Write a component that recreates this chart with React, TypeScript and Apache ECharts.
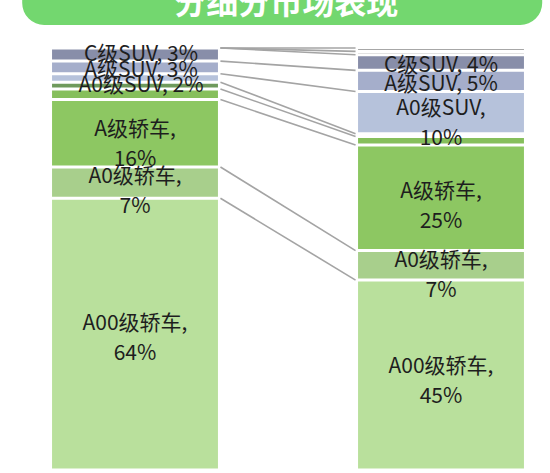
import React, { useEffect, useRef } from 'react';
import * as echarts from 'echarts';

// ---- data ----
const headerTitle = '分细分市场表现';
const categories = ['2019年', '2020年'];
const segmentNames = ['A00级轿车', 'A0级轿车', 'A级轿车', 'B级轿车', 'C级轿车', 'A0级SUV', 'A级SUV', 'C级SUV', 'MPV', '其他'];
const a00Sedan = [64.4, 45];
const a0Sedan = [7.4, 7];
const aSedan = [16, 25];
const bSedan = [2.5, 2];
const cSedan = [1.6, 0.7];
const a0Suv = [2, 10];
const aSuv = [3, 5];
const cSuv = [3.1, 3.7];
const mpv = [0, 0.8];
const others = [0, 0.8];
const segmentValues = [a00Sedan, a0Sedan, aSedan, bSedan, cSedan, a0Suv, aSuv, cSuv, mpv, others];

// ---- styles / layout ----
const segmentColors = ['#b9e09c', '#a8cf8c', '#8dc762', '#86bf5c', '#6f9a5c', '#b6c2db', '#a5aecb', '#888ea9', '#8c8c8c', '#4f4f4f'];
const labeledSegments = ['A00级轿车', 'A0级轿车', 'A级轿车', 'A0级SUV', 'A级SUV', 'C级SUV'];
const labelOffsets: Record<string, number[][]> = {
  'A00级轿车': [[0, 2], [0, 4]],
  'A0级轿车': [[0, 6], [0, 8]],
  'A级轿车': [[0, 9], [0, 6]],
  'A0级SUV': [[6, 5], [0, 8]],
  'A级SUV': [[6, 1], [0, 1]],
  'C级SUV': [[6, -3], [0, 0]],
};
const BAR_RATIO = 0.552;
const SHIFT = 18.2; // chart canvas extends left of the page
const CANVAS_W = 612.3;

function isOneLine(name: string, idx: number) {
  return name === 'A级SUV' || name === 'C级SUV' || (name === 'A0级SUV' && idx === 0);
}

export default function App() {
  const ref = useRef<HTMLDivElement>(null);
  useEffect(() => {
    if (!ref.current) return;
    const chart = echarts.init(ref.current, undefined, { renderer: 'svg' });

    const barSeries = segmentNames.map((name, si) => ({
      type: 'bar',
      name,
      stack: 'total',
      barWidth: BAR_RATIO * 100 + '%',
      itemStyle: { color: segmentColors[si], borderColor: '#ffffff', borderWidth: 1.5 },
      data: segmentValues[si].map((v, ci) => ({
        value: v,
        label: labeledSegments.includes(name)
          ? { show: true, offset: labelOffsets[name][ci] }
          : { show: false },
      })),
      label: {
        position: 'inside',
        fontFamily: 'Noto Sans CJK SC',
        fontSize: 21,
        lineHeight: 30,
        color: '#1e1e1e',
        formatter: (p: any) => {
          const v = Math.round(p.value);
          return isOneLine(p.seriesName, p.dataIndex)
            ? `${p.seriesName}, ${v}%`
            : `${p.seriesName},\n${v}%`;
        },
      },
      z: 2,
    }));

    const boundaries = segmentNames.map((_, si) => {
      let l = 0;
      let r = 0;
      for (let k = 0; k <= si; k++) {
        l += segmentValues[k][0];
        r += segmentValues[k][1];
      }
      return [0, l, r];
    });

    const option: any = {
      animation: false,
      backgroundColor: '#ffffff',
      grid: { left: 0, right: 0, top: 48, bottom: 3 },
      xAxis: { type: 'category', data: categories, show: false },
      yAxis: { type: 'value', min: 0, max: 100, show: false },
      series: [
        ...barSeries,
        {
          type: 'custom',
          silent: true,
          z: 1,
          encode: { x: 0, y: [1, 2] },
          data: boundaries,
          renderItem: (params: any, api: any) => {
            const p0 = api.coord([0, api.value(1)]);
            const p1 = api.coord([1, api.value(2)]);
            const half = (api.size([1, 0])[0] * BAR_RATIO) / 2;
            return {
              type: 'line',
              shape: { x1: p0[0] + half + 1, y1: p0[1], x2: p1[0] - half - 1, y2: p1[1] },
              style: { stroke: '#a4a4a4', lineWidth: 1.6 },
            };
          },
        },
      ],
      graphic: [
        {
          type: 'rect',
          shape: { x: 22 + SHIFT, y: -40, width: 520, height: 65, r: 22 },
          style: { fill: '#73d76f' },
          z: 10,
        },
        {
          type: 'text',
          x: 286 + SHIFT,
          y: 0,
          style: {
            text: headerTitle,
            font: 'bold 32px "Noto Sans CJK SC"',
            fill: '#ffffff',
            align: 'center',
            verticalAlign: 'middle',
          },
          z: 11,
        },
      ],
    };
    chart.setOption(option);
    return () => chart.dispose();
  }, []);

  return (
    <div style={{ position: 'absolute', left: 0, top: 0, width: 550, height: 473, overflow: 'hidden' }}>
      <div
        ref={ref}
        style={{ position: 'absolute', left: -SHIFT, top: 0, width: CANVAS_W, height: 473 }}
      />
    </div>
  );
}
